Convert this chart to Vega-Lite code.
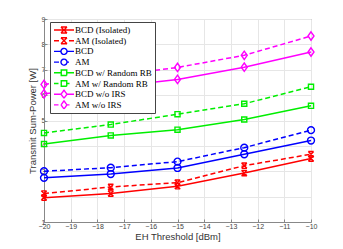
{
  "$schema": "https://vega.github.io/schema/vega-lite/v6.json",
  "width": 267,
  "height": 203,
  "autosize": {"type": "none"},
  "padding": {"left": 44, "top": 19, "right": 32, "bottom": 27},
  "background": "white",
  "config": {
    "view": {"stroke": "#888", "strokeWidth": 1},
    "axis": {
      "labelFont": "Liberation Sans", "labelFontSize": 7, "labelColor": "#444",
      "titleFont": "Liberation Sans", "titleFontSize": 9.5, "titleFontWeight": "normal", "titleColor": "#333",
      "gridColor": "#e6e6e6", "domainColor": "#888", "tickColor": "#888", "tickSize": -3
    }
  },
  "data": {"values": [
    {"x": -20, "y": 1.96, "s": "BCD (Isolated)", "m": "BCD", "g": "iso"},
    {"x": -17.5, "y": 2.12, "s": "BCD (Isolated)", "m": "BCD", "g": "iso"},
    {"x": -15, "y": 2.41, "s": "BCD (Isolated)", "m": "BCD", "g": "iso"},
    {"x": -12.5, "y": 2.93, "s": "BCD (Isolated)", "m": "BCD", "g": "iso"},
    {"x": -10, "y": 3.5, "s": "BCD (Isolated)", "m": "BCD", "g": "iso"},
    {"x": -20, "y": 2.12, "s": "AM (Isolated)", "m": "AM", "g": "iso"},
    {"x": -17.5, "y": 2.38, "s": "AM (Isolated)", "m": "AM", "g": "iso"},
    {"x": -15, "y": 2.55, "s": "AM (Isolated)", "m": "AM", "g": "iso"},
    {"x": -12.5, "y": 3.22, "s": "AM (Isolated)", "m": "AM", "g": "iso"},
    {"x": -10, "y": 3.67, "s": "AM (Isolated)", "m": "AM", "g": "iso"},
    {"x": -20, "y": 2.74, "s": "BCD", "m": "BCD", "g": "prop"},
    {"x": -17.5, "y": 2.89, "s": "BCD", "m": "BCD", "g": "prop"},
    {"x": -15, "y": 3.13, "s": "BCD", "m": "BCD", "g": "prop"},
    {"x": -12.5, "y": 3.67, "s": "BCD", "m": "BCD", "g": "prop"},
    {"x": -10, "y": 4.21, "s": "BCD", "m": "BCD", "g": "prop"},
    {"x": -20, "y": 3.0, "s": "AM", "m": "AM", "g": "prop"},
    {"x": -17.5, "y": 3.14, "s": "AM", "m": "AM", "g": "prop"},
    {"x": -15, "y": 3.38, "s": "AM", "m": "AM", "g": "prop"},
    {"x": -12.5, "y": 3.93, "s": "AM", "m": "AM", "g": "prop"},
    {"x": -10, "y": 4.62, "s": "AM", "m": "AM", "g": "prop"},
    {"x": -20, "y": 4.07, "s": "BCD w/ Random RB", "m": "BCD", "g": "rb"},
    {"x": -17.5, "y": 4.41, "s": "BCD w/ Random RB", "m": "BCD", "g": "rb"},
    {"x": -15, "y": 4.64, "s": "BCD w/ Random RB", "m": "BCD", "g": "rb"},
    {"x": -12.5, "y": 5.04, "s": "BCD w/ Random RB", "m": "BCD", "g": "rb"},
    {"x": -10, "y": 5.58, "s": "BCD w/ Random RB", "m": "BCD", "g": "rb"},
    {"x": -20, "y": 4.51, "s": "AM w/ Random RB", "m": "AM", "g": "rb"},
    {"x": -17.5, "y": 4.84, "s": "AM w/ Random RB", "m": "AM", "g": "rb"},
    {"x": -15, "y": 5.25, "s": "AM w/ Random RB", "m": "AM", "g": "rb"},
    {"x": -12.5, "y": 5.66, "s": "AM w/ Random RB", "m": "AM", "g": "rb"},
    {"x": -10, "y": 6.33, "s": "AM w/ Random RB", "m": "AM", "g": "rb"},
    {"x": -20, "y": 6.05, "s": "BCD w/o IRS", "m": "BCD", "g": "noirs"},
    {"x": -17.5, "y": 6.32, "s": "BCD w/o IRS", "m": "BCD", "g": "noirs"},
    {"x": -15, "y": 6.62, "s": "BCD w/o IRS", "m": "BCD", "g": "noirs"},
    {"x": -12.5, "y": 7.1, "s": "BCD w/o IRS", "m": "BCD", "g": "noirs"},
    {"x": -10, "y": 7.7, "s": "BCD w/o IRS", "m": "BCD", "g": "noirs"},
    {"x": -20, "y": 6.42, "s": "AM w/o IRS", "m": "AM", "g": "noirs"},
    {"x": -17.5, "y": 6.76, "s": "AM w/o IRS", "m": "AM", "g": "noirs"},
    {"x": -15, "y": 7.09, "s": "AM w/o IRS", "m": "AM", "g": "noirs"},
    {"x": -12.5, "y": 7.57, "s": "AM w/o IRS", "m": "AM", "g": "noirs"},
    {"x": -10, "y": 8.33, "s": "AM w/o IRS", "m": "AM", "g": "noirs"}
  ]},
  "encoding": {
    "x": {"field": "x", "type": "quantitative", "title": "EH Threshold [dBm]",
      "scale": {"domain": [-20, -10], "nice": false},
      "axis": {"values": [-20, -19, -18, -17, -16, -15, -14, -13, -12, -11, -10], "labelPadding": 3, "titlePadding": 2, "labelFlush": false}},
    "y": {"field": "y", "type": "quantitative", "title": "Transmit Sum-Power [W]",
      "scale": {"domain": [1, 9], "nice": false},
      "axis": {"values": [1, 2, 3, 4, 5, 6, 7, 8, 9], "labelPadding": 2, "titlePadding": 4, "labelFlush": false}},
    "color": {"field": "s", "type": "nominal",
      "scale": {
        "domain": ["BCD (Isolated)", "AM (Isolated)", "BCD", "AM", "BCD w/ Random RB", "AM w/ Random RB", "BCD w/o IRS", "AM w/o IRS"],
        "range": ["#ff0000", "#ff0000", "#0000ff", "#0000ff", "#00ee00", "#00ee00", "#ff00ff", "#ff00ff"]
      },
      "legend": {
        "title": null, "orient": "none", "legendX": 6, "legendY": 3,
        "fillColor": "white", "strokeColor": "#444", "padding": 3,
        "labelFont": "Liberation Serif", "labelFontSize": 9, "labelColor": "#000",
        "symbolSize": 100, "symbolOffset": 5, "rowPadding": 0.7, "clipHeight": 10, "labelOffset": 5, "labelLimit": 200,
        "encode": {
          "symbols": {"update": {
            "fill": {"value": "transparent"},
            "stroke": {"scale": "color", "field": "value"},
            "strokeWidth": {"value": 1.4},
            "strokeDash": {"value": [1, 0]},
            "opacity": {"value": 1},
            "shape": {"signal": "({'BCD (Isolated)': 'M-2,0L2,0M-0.6,-0.6L0.6,0.6M-0.6,0.6L0.6,-0.6M-0.6,-0.6L0.6,-0.6M-0.6,0.6L0.6,0.6', 'AM (Isolated)': 'M-2,0L-1,0M1,0L2,0M-0.6,-0.6L0.6,0.6M-0.6,0.6L0.6,-0.6M-0.6,-0.6L0.6,-0.6M-0.6,0.6L0.6,0.6', 'BCD': 'M-2,0L-0.6,0M0.6,0L2,0M0.6,0A0.6,0.6,0,1,1,-0.6,0A0.6,0.6,0,1,1,0.6,0', 'AM': 'M-2,0L-1,0M0.6,0L1,0M0.6,0A0.6,0.6,0,1,1,-0.6,0A0.6,0.6,0,1,1,0.6,0', 'BCD w/ Random RB': 'M-2,0L-0.55,0M0.55,0L2,0M-0.55,-0.55L0.55,-0.55L0.55,0.55L-0.55,0.55Z', 'AM w/ Random RB': 'M-2,0L-1.1,0M0.55,0L1.1,0M-0.55,-0.55L0.55,-0.55L0.55,0.55L-0.55,0.55Z', 'BCD w/o IRS': 'M-2,0L-0.6,0M0.6,0L2,0M0,-0.8L0.6,0L0,0.8L-0.6,0Z', 'AM w/o IRS': 'M-2,0L-1.1,0M0.6,0L1.1,0M0,-0.8L0.6,0L0,0.8L-0.6,0Z'})[datum.value]"}
          }}
        }
      }
    }
  },
  "layer": [
    {
      "transform": [{"filter": {"field": "m", "equal": "BCD"}}],
      "mark": {"type": "line", "strokeWidth": 1.5}
    },
    {
      "transform": [{"filter": {"field": "m", "equal": "AM"}}],
      "mark": {"type": "line", "strokeWidth": 1.5, "strokeDash": [5, 3]}
    },
    {
      "transform": [{"filter": {"field": "g", "equal": "iso"}}],
      "mark": {"type": "point", "filled": false, "strokeWidth": 1.4, "size": 36, "opacity": 1,
        "shape": "M-0.9,-0.9L0.9,0.9M-0.9,0.9L0.9,-0.9M-0.9,-0.9L0.9,-0.9M-0.9,0.9L0.9,0.9"}
    },
    {
      "transform": [{"filter": {"field": "g", "equal": "prop"}}],
      "mark": {"type": "point", "filled": false, "strokeWidth": 1.4, "size": 48, "opacity": 1, "shape": "circle"}
    },
    {
      "transform": [{"filter": {"field": "g", "equal": "rb"}}],
      "mark": {"type": "point", "filled": false, "strokeWidth": 1.4, "size": 36, "opacity": 1,
        "shape": "M-0.85,-0.85L0.85,-0.85L0.85,0.85L-0.85,0.85Z"}
    },
    {
      "transform": [{"filter": {"field": "g", "equal": "noirs"}}],
      "mark": {"type": "point", "filled": false, "strokeWidth": 1.4, "size": 36, "opacity": 1,
        "shape": "M0,-1.4L1,0L0,1.4L-1,0Z"}
    }
  ]
}
